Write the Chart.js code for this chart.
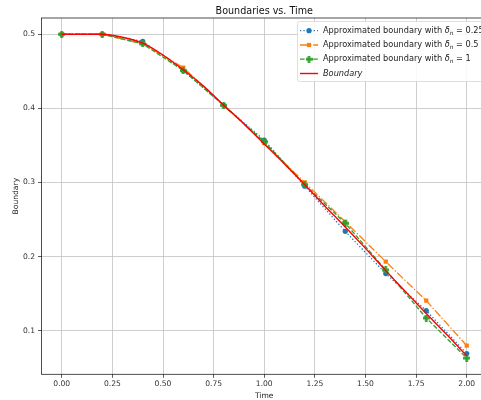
<!DOCTYPE html>
<html>
<head>
<meta charset="utf-8">
<script src="https://cdn.jsdelivr.net/npm/chart.js@4/dist/chart.umd.min.js"></script>
<style>
  html, body { margin: 0; padding: 0; background: #fff; overflow: hidden; width: 481px; height: 400px; }
  #grafico { position: absolute; left: 0; top: 0; }
</style>
</head>
<body>
<canvas id="grafico" width="500" height="400"></canvas>
<script>
// Tiempos de los puntos aproximados y de la frontera
const tiempos = [0, 0.2, 0.4, 0.6, 0.8, 1.0, 1.2, 1.4, 1.6, 1.8, 2.0];
const aprox025 = [0.5, 0.5, 0.4905, 0.451, 0.404, 0.357, 0.295, 0.234, 0.177, 0.127, 0.069];
const aprox05 = [0.5, 0.5, 0.487, 0.455, 0.404, 0.353, 0.300, 0.247, 0.193, 0.1405, 0.0797];
const aprox1 = [0.5, 0.5, 0.487, 0.451, 0.404, 0.355, 0.297, 0.245, 0.182, 0.117, 0.063];

const tiemposFrontera = [0, 0.1, 0.2, 0.3, 0.4, 0.5, 0.6, 0.7, 0.8, 0.9, 1.0,
                         1.1, 1.2, 1.3, 1.4, 1.5, 1.6, 1.7, 1.8, 1.9, 2.0];
const frontera = [0.5, 0.5, 0.5, 0.496, 0.488, 0.472, 0.452, 0.430, 0.404, 0.379, 0.352,
                  0.325, 0.297, 0.268, 0.240, 0.211, 0.181, 0.152, 0.123, 0.095, 0.066];

const ticksX = [0, 0.25, 0.5, 0.75, 1.0, 1.25, 1.5, 1.75, 2.0];
const ticksY = [0.1, 0.2, 0.3, 0.4, 0.5];

const titulo = 'Boundaries vs. Time';
const tituloX = 'Time';
const tituloY = 'Boundary';
const etiquetas = ['0.25', '0.5', '1'];

const fuente = "'DejaVu Sans', sans-serif";

// Marcador en forma de cruz rellena (tipo 'P' de matplotlib)
function crearCruz(color) {
    const c = document.createElement('canvas');
    c.width = 7; c.height = 7;
    const g = c.getContext('2d');
    g.fillStyle = color;
    g.fillRect(0, 2.2, 7, 2.6);
    g.fillRect(2.2, 0, 2.6, 7);
    return c;
}
const cruzVerde = crearCruz('#2ca02c');

const puntos = (xs, ys) => xs.map((x, i) => ({ x: x, y: ys[i] }));

const series = [
    { valores: aprox025, color: '#1f77b4', dash: [1.3, 2.1], marcador: 'circle', radio: 2.6, orden: 4 },
    { valores: aprox05, color: '#ff7f0e', dash: [8, 2, 1.3, 2], marcador: 'rect', radio: 3, orden: 3 },
    { valores: aprox1, color: '#2ca02c', dash: [4.6, 2], marcador: cruzVerde, radio: 3.5, orden: 2 }
];

const datasets = series.map((s, i) => ({
    label: 'Approximated boundary with δn = ' + etiquetas[i],
    data: puntos(tiempos, s.valores),
    borderColor: s.color,
    backgroundColor: s.color,
    borderWidth: 1.3,
    borderDash: s.dash,
    pointStyle: s.marcador,
    pointRadius: s.radio,
    pointBorderWidth: 0,
    tension: 0,
    order: s.orden
}));
datasets.push({
    label: 'Boundary',
    data: puntos(tiemposFrontera, frontera),
    borderColor: '#ff0000',
    backgroundColor: '#ff0000',
    borderWidth: 1.4,
    pointRadius: 0,
    cubicInterpolationMode: 'monotone',
    order: 1
});

// Marco, títulos y leyenda al estilo matplotlib
const decoracion = {
    id: 'decoracion',
    afterDraw(chart) {
        const ctx = chart.ctx;
        const a = chart.chartArea;
        ctx.save();
        ctx.strokeStyle = '#222';
        ctx.lineWidth = 0.8;
        ctx.strokeRect(a.left, a.top, a.right - a.left, a.bottom - a.top);

        ctx.fillStyle = '#111';
        ctx.font = '9.6px ' + fuente;
        ctx.textAlign = 'center';
        ctx.textBaseline = 'alphabetic';
        ctx.fillText(titulo, (a.left + a.right) / 2, 14);

        ctx.font = '7.6px ' + fuente;
        ctx.fillStyle = '#222';
        ctx.fillText(tituloX, (a.left + a.right) / 2, 398);
        ctx.save();
        ctx.translate(17.5, (a.top + a.bottom) / 2);
        ctx.rotate(-Math.PI / 2);
        ctx.fillText(tituloY, 0, 0);
        ctx.restore();

        // Leyenda
        const lx = 297.5, ly = 21.5, lw = 200, lh = 60;
        ctx.fillStyle = 'rgba(255,255,255,0.85)';
        ctx.strokeStyle = '#d6d6d6';
        ctx.lineWidth = 0.8;
        ctx.beginPath();
        ctx.roundRect(lx, ly, lw, lh, 2);
        ctx.fill();
        ctx.stroke();

        const filas = [30.7, 45, 59.2, 73.5];
        chart.data.datasets.forEach((ds, i) => {
            const y = filas[i];
            ctx.strokeStyle = ds.borderColor;
            ctx.lineWidth = ds.borderWidth;
            ctx.setLineDash(ds.borderDash || []);
            ctx.beginPath();
            ctx.moveTo(300, y);
            ctx.lineTo(318, y);
            ctx.stroke();
            ctx.setLineDash([]);
            if (ds.pointRadius > 0) {
                ctx.fillStyle = ds.backgroundColor;
                if (typeof ds.pointStyle === 'string') {
                    ctx.beginPath();
                    if (ds.pointStyle === 'circle') {
                        ctx.arc(309, y, ds.pointRadius, 0, Math.PI * 2);
                    } else {
                        const t = ds.pointRadius / Math.SQRT2;
                        ctx.rect(309 - t, y - t, 2 * t, 2 * t);
                    }
                    ctx.fill();
                } else {
                    ctx.drawImage(ds.pointStyle, 309 - 3.5, y - 3.5);
                }
            }
            ctx.fillStyle = '#222';
            ctx.textAlign = 'left';
            ctx.textBaseline = 'middle';
            if (i < 3) {
                const base = 'Approximated boundary with ';
                ctx.font = '8.2px ' + fuente;
                ctx.fillText(base, 323, y);
                let x = 323 + ctx.measureText(base).width;
                ctx.font = 'italic 8.2px ' + fuente;
                ctx.fillText('δ', x, y);
                x += ctx.measureText('δ').width;
                ctx.font = 'italic 5.8px ' + fuente;
                ctx.fillText('n', x, y + 2.5);
                x += ctx.measureText('n').width;
                ctx.font = '8.2px ' + fuente;
                ctx.fillText(' = ' + etiquetas[i], x, y);
            } else {
                ctx.font = 'italic 8.2px ' + fuente;
                ctx.fillText(ds.label, 323, y);
            }
        });
        ctx.restore();
    }
};

new Chart(document.getElementById('grafico'), {
    type: 'line',
    data: { datasets: datasets },
    options: {
        responsive: false,
        animation: false,
        layout: { padding: { top: 18, right: 13, left: 0, bottom: 0 } },
        plugins: { legend: { display: false }, title: { display: false }, tooltip: { enabled: false } },
        scales: {
            x: {
                type: 'linear',
                min: -0.1,
                max: 2.1,
                afterBuildTicks: (scale) => { scale.ticks = ticksX.map(v => ({ value: v })); },
                afterFit: (scale) => { scale.height = 25.7; },
                grid: { color: '#c2c2c2', lineWidth: 0.8, tickLength: 3.5, tickColor: '#333' },
                border: { display: false },
                ticks: {
                    color: '#333',
                    font: { family: fuente, size: 7.6 },
                    padding: 2,
                    maxRotation: 0,
                    callback: (v) => v.toFixed(2)
                }
            },
            y: {
                type: 'linear',
                min: 0.0411,
                max: 0.5219,
                afterBuildTicks: (scale) => { scale.ticks = ticksY.map(v => ({ value: v })); },
                afterFit: (scale) => { scale.width = 41.5; },
                grid: { color: '#c2c2c2', lineWidth: 0.8, tickLength: 3.5, tickColor: '#333' },
                border: { display: false },
                ticks: {
                    color: '#333',
                    font: { family: fuente, size: 7.6 },
                    padding: 3,
                    callback: (v) => v.toFixed(1)
                }
            }
        }
    },
    plugins: [decoracion]
});
</script>
</body>
</html>
